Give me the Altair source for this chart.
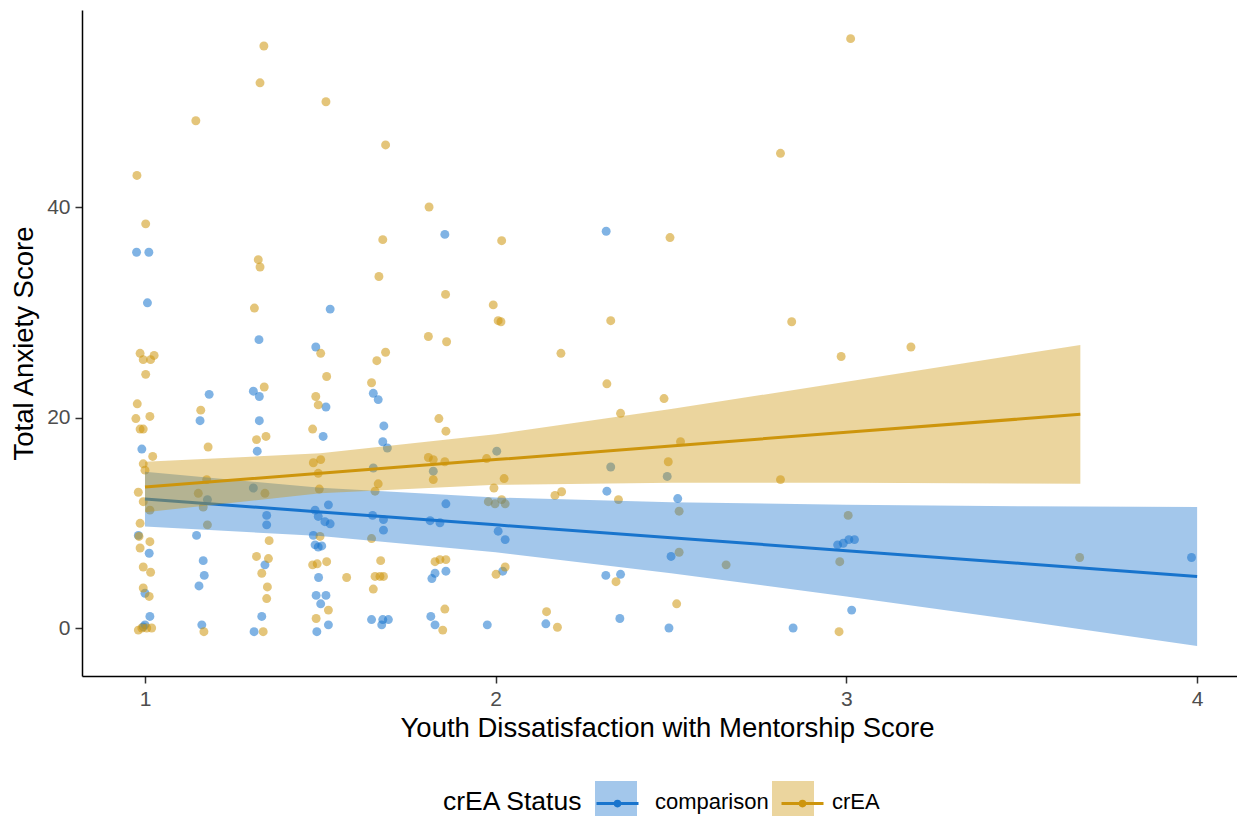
import altair as alt
import pandas as pd

# ---- raw points ----
cmp_x = [0.976, 1.011, 1.007, 0.991, 1.000, 1.014, 0.995, 1.000, 0.981, 1.012,
         1.183, 1.157, 1.147, 1.166, 1.169, 1.154, 1.162, 1.178,
         1.325, 1.309, 1.326, 1.326, 1.320, 1.347, 1.347, 1.342, 1.333, 1.311, 1.309,
         1.487, 1.516, 1.508, 1.485, 1.494, 1.513, 1.523, 1.528, 1.480, 1.494, 1.504,
         1.485, 1.495, 1.488, 1.516, 1.501, 1.523, 1.490, 1.528,
         1.651, 1.665, 1.681, 1.678, 1.691, 1.680, 1.680, 1.649, 1.646, 1.678, 1.694,
         1.675, 1.651,
         1.855, 1.858, 1.813, 1.841, 1.818, 1.827, 1.858, 1.815, 1.827, 1.822,
         2.003, 2.007, 2.027, 2.020, 1.976,
         2.143,
         2.315, 2.317, 2.314, 2.356, 2.354, 2.328,
         2.519, 2.500, 2.494, 2.489,
         2.848,
         2.975, 2.991, 3.007, 3.023, 3.015,
         3.984]
cmp_y = [35.7, 35.7, 30.9, 17.0, 3.3, 1.1, 0.1, 0.3, 8.8, 7.1,
         22.2, 19.7, 8.8, 6.4, 5.0, 4.0, 0.3, 12.2,
         27.4, 22.5, 22.0, 19.7, 16.8, 9.8, 10.7, 6.0, 1.1, -0.35, 13.3,
         26.7, 21.0, 18.2, 11.2, 10.6, 10.1, 11.7, 9.9, 8.8, 7.7, 7.8,
         7.9, 4.8, 3.1, 3.1, 2.3, 0.3, -0.35, 30.3,
         22.3, 21.7, 19.2, 17.7, 17.1, 10.3, 9.3, 10.7, 0.8, 0.8, 0.8,
         0.3, 15.2,
         37.4, 11.8, 10.2, 10.0, 4.7, 5.2, 5.4, 1.1, 0.3, 14.9,
         16.8, 9.2, 8.4, 5.4, 0.3,
         0.4,
         37.7, 13.0, 5.0, 5.1, 0.9, 15.3,
         12.3, 6.8, 0.0, 14.4,
         0.0,
         7.9, 8.05, 8.4, 8.4, 1.7,
         6.7]

crea_x = [0.977, 1.002, 0.986, 0.995, 1.016, 1.026, 1.002, 0.978, 0.974, 1.014,
          0.986, 0.995, 1.022, 0.995, 1.000, 0.981, 0.995, 1.014, 0.986, 1.014,
          0.986, 0.995, 1.016, 0.995, 1.012, 0.981, 0.991, 1.005, 1.019, 0.983,
          1.145, 1.159, 1.180, 1.176, 1.152, 1.166, 1.178, 1.168,
          1.339, 1.328, 1.323, 1.328, 1.312, 1.340, 1.318, 1.345, 1.342, 1.354,
          1.318, 1.352, 1.333, 1.349, 1.347, 1.337,
          1.516, 1.501, 1.518, 1.487, 1.494, 1.478, 1.480, 1.501, 1.494, 1.497,
          1.499, 1.478, 1.491, 1.518, 1.523, 1.488, 1.575,
          1.686, 1.678, 1.667, 1.686, 1.661, 1.646, 1.665, 1.656, 1.646, 1.672,
          1.656, 1.670, 1.680, 1.651,
          1.810, 1.857, 1.808, 1.860, 1.838, 1.858, 1.808, 1.822, 1.855, 1.822,
          1.827, 1.841, 1.858, 1.855, 1.849,
          2.017, 1.993, 2.007, 2.015, 1.974, 2.024, 1.995, 1.979, 1.998, 2.017,
          2.027, 2.001, 2.027,
          2.186, 2.169, 2.188, 2.145, 2.176,
          2.328, 2.317, 2.356, 2.350, 2.343,
          2.497, 2.480, 2.527, 2.492, 2.523, 2.523, 2.516,
          2.657, 2.812, 2.844, 2.812, 3.012, 2.985, 2.979, 2.981, 3.005, 3.184,
          3.665]
crea_y = [43.0, 38.4, 26.1, 25.5, 25.5, 25.9, 24.1, 21.3, 19.9, 20.1,
          18.9, 18.9, 16.3, 15.6, 15.0, 12.9, 12.0, 11.2, 9.95, 8.2,
          7.6, 5.8, 5.3, 3.8, 3.0, -0.2, 0.0, 0.0, 0.0, 8.7,
          48.2, 20.7, 17.2, 14.1, 12.8, 11.5, 9.8, -0.35,
          55.3, 51.8, 35.0, 34.3, 30.4, 22.9, 17.9, 18.2, 12.8, 8.3,
          6.8, 6.6, 5.2, 3.9, 2.8, -0.35,
          50.0, 26.1, 23.9, 22.0, 21.2, 18.9, 15.7, 16.0, 14.7, 13.2,
          8.7, 6.0, 6.1, 6.3, 1.7, 0.9, 4.8,
          45.9, 36.9, 33.4, 26.2, 25.4, 23.3, 13.7, 13.0, 8.5, 6.4,
          4.9, 4.9, 4.9, 3.7,
          40.0, 31.7, 27.7, 27.2, 19.9, 18.7, 16.2, 16.0, 15.8, 14.1,
          6.3, 6.5, 6.5, 1.8, -0.2,
          36.8, 30.7, 29.2, 29.1, 16.1, 14.2, 13.3, 12.0, 11.8, 12.2,
          11.8, 5.1, 5.8,
          26.1, 12.6, 12.95, 1.55, 0.07,
          29.2, 23.2, 20.4, 12.2, 4.4,
          37.1, 21.8, 17.7, 15.8, 11.1, 7.2, 2.3,
          6.0, 45.1, 29.1, 14.1, 56.0, 25.8, -0.35, 6.3, 10.7, 26.7,
          6.7]

# ---- fitted lines and confidence bands ----
cmp_fit_x = [1.0, 1.5, 2.0, 2.5, 3.0, 3.5, 4.0]
cmp_fit = [12.25, 11.03, 9.8, 8.58, 7.35, 6.13, 4.9]
cmp_lo = [9.65, 8.74, 7.2, 5.21, 2.99, 0.69, -1.7]
cmp_hi = [14.85, 13.32, 12.4, 11.95, 11.71, 11.57, 11.5]

crea_fit_x = [1.0, 1.5, 2.0, 2.5, 3.0, 3.667]
crea_fit = [13.4, 14.7, 16.0, 17.3, 18.6, 20.3]
crea_lo = [11.0, 12.8, 13.6, 13.8, 13.8, 13.7]
crea_hi = [15.8, 16.6, 18.4, 20.8, 23.4, 26.9]

groups = ["comparison", "crEA"]
dark = ["#1874CD", "#CD950C"]

x_ticks = [1, 2, 3, 4]
y_ticks = [0, 20, 40]

pts = pd.DataFrame({
    "x": cmp_x + crea_x,
    "y": cmp_y + crea_y,
    "group": [groups[0]] * len(cmp_x) + [groups[1]] * len(crea_x),
})
band = pd.DataFrame({
    "x": cmp_fit_x + crea_fit_x,
    "lo": cmp_lo + crea_lo,
    "hi": cmp_hi + crea_hi,
    "ribbon": [groups[0]] * len(cmp_fit_x) + [groups[1]] * len(crea_fit_x),
})
fit = pd.DataFrame({
    "x": cmp_fit_x + crea_fit_x,
    "fit": cmp_fit + crea_fit,
    "line": [groups[0]] * len(cmp_fit_x) + [groups[1]] * len(crea_fit_x),
})

FONT = "Liberation Sans, Arial, sans-serif"
xdom = [0.8204, 4.1137]
ydom = [-4.56, 58.72]

axis_common = dict(
    format="d", grid=False, domainColor="black", domainWidth=1.5,
    tickColor="#333333", tickWidth=1.5, tickSize=7,
    labelFontSize=21, labelColor="#4D4D4D", labelPadding=5,
    labelFont=FONT, titleFont=FONT, titleFontSize=27.5,
    titleFontWeight="normal", titleColor="black",
)

xenc = alt.X("x:Q", scale=alt.Scale(domain=xdom, nice=False, zero=False),
             axis=alt.Axis(values=x_ticks,
                           title="Youth Dissatisfaction with Mentorship Score",
                           titlePadding=5, titleX=585, **axis_common))
yenc = alt.Y("y:Q", scale=alt.Scale(domain=ydom, nice=False, zero=False),
             axis=alt.Axis(values=y_ticks, title="Total Anxiety Score",
                           titlePadding=8, **axis_common))

points = alt.Chart(pts).mark_circle(size=80, opacity=0.55).encode(
    x=xenc, y=yenc,
    color=alt.Color("group:N", scale=alt.Scale(domain=groups, range=dark), legend=None),
)

LEG_Y = 771
fill_legend = alt.Legend(
    title="crEA Status", orient="none", legendX=361, legendY=LEG_Y,
    direction="horizontal", titleOrient="left", titleAnchor="middle",
    titleBaseline="middle", titleFontSize=26.5, titleFontWeight="normal",
    titleColor="black", titleFont=FONT, labelFont=FONT, labelFontSize=22,
    labelColor="black", labelOffset=18, columnPadding=3, titlePadding=12,
    symbolSize=1764, symbolType="square", symbolOpacity=0.4,
    symbolStrokeWidth=0, padding=0, labelLimit=400,
)
stroke_legend = alt.Legend(
    title=None, orient="none", legendX=513, legendY=LEG_Y,
    direction="horizontal", labelExpr="''", labelOffset=18, columnPadding=117,
    symbolSize=1764,
    symbolType="M-1,0H1M-0.11,0A0.11,0.11,0,1,1,0.11,0A0.11,0.11,0,1,1,-0.11,0",
    symbolStrokeWidth=3, padding=0,
)


def ribbon(name):
    return alt.Chart(band).transform_filter(alt.datum.ribbon == name).mark_area(
        opacity=0.4).encode(
        x=alt.X("x:Q"), y=alt.Y("lo:Q"), y2="hi:Q",
        fill=alt.Fill("ribbon:N", scale=alt.Scale(range=dark), legend=fill_legend),
    )


def fitline(name):
    return alt.Chart(fit).transform_filter(alt.datum.line == name).mark_line(
        strokeWidth=3).encode(
        x=alt.X("x:Q"), y=alt.Y("fit:Q"),
        stroke=alt.Stroke("line:N", scale=alt.Scale(range=dark), legend=stroke_legend),
    )


chart = alt.layer(
    points,
    ribbon("comparison"), fitline("comparison"),
    ribbon("crEA"), fitline("crEA"),
).properties(
    width=1155, height=666,
    autosize=alt.AutoSizeParams(type="none"),
    padding={"left": 74, "top": 2, "right": 0, "bottom": 140},
).configure_view(stroke=None)

chart.save("out.html", embed_options={"renderer": "svg", "actions": False})
